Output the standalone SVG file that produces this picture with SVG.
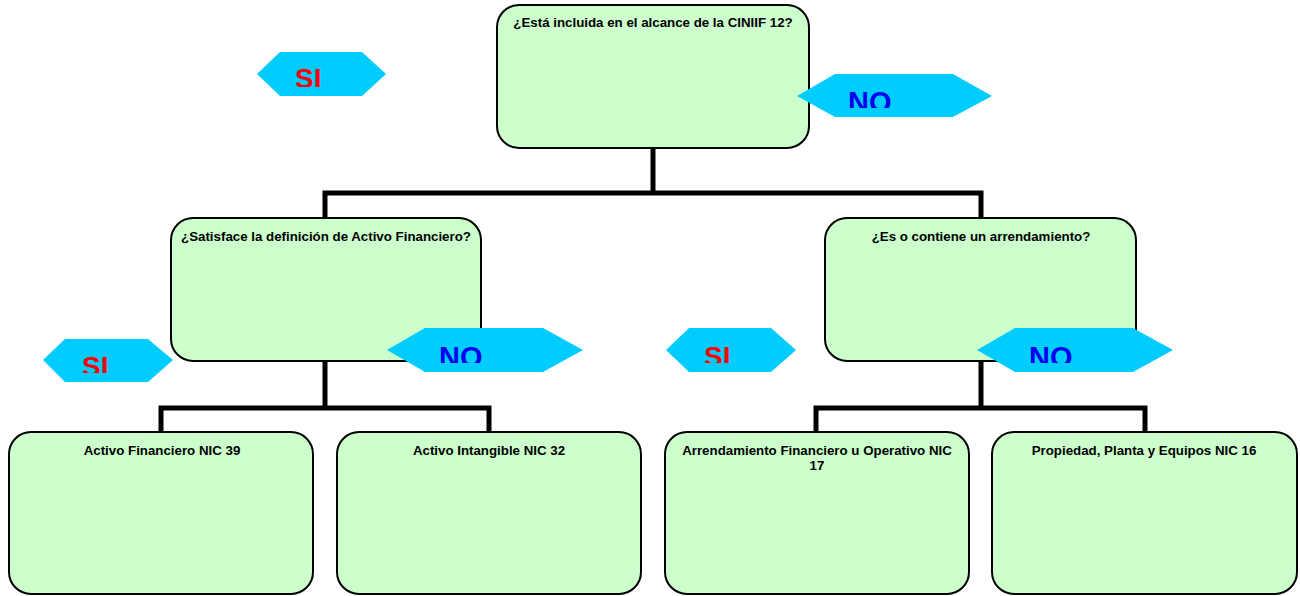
<svg xmlns="http://www.w3.org/2000/svg" width="1300" height="596" viewBox="0 0 1300 596">
<style>
.box{fill:#ccffcc;stroke:#000;stroke-width:2}
.t{font-family:"Liberation Sans",Arial,sans-serif;font-weight:bold;font-size:13.3px;fill:#000;text-anchor:middle}
.hex{fill:#00ccff}
.si{font-family:"Liberation Sans",Arial,sans-serif;font-weight:bold;font-size:28px;fill:#ff0000}
.no{font-family:"Liberation Sans",Arial,sans-serif;font-weight:bold;font-size:29px;fill:#0000ee}
.c{fill:none;stroke:#000;stroke-width:5}
</style>
<defs>
<clipPath id="c1"><rect x="250" y="40" width="150" height="47"/></clipPath>
<clipPath id="c2"><rect x="790" y="60" width="210" height="48"/></clipPath>
<clipPath id="c3"><rect x="30" y="330" width="160" height="43"/></clipPath>
<clipPath id="c4"><rect x="380" y="320" width="210" height="43"/></clipPath>
<clipPath id="c5"><rect x="660" y="320" width="150" height="43"/></clipPath>
<clipPath id="c6"><rect x="970" y="320" width="210" height="43"/></clipPath>
</defs>
<rect width="1300" height="596" fill="#fff"/>
<g id="connectors">
<path class="c" d="M653,148 V193 M325,218 V193 H981 V218"/>
<path class="c" d="M325,361 V408 M161,432 V408 H489 V432"/>
<path class="c" d="M981,361 V408 M816,432 V408 H1145 V432"/>
</g>
<g id="n1"><rect class="box" x="497" y="5" width="312" height="143" rx="22"/><text class="t" x="653" y="27">¿Está incluida en el alcance de la CINIIF 12?</text></g>
<g id="n2"><rect class="box" x="171" y="218" width="310" height="143" rx="22"/><text class="t" x="326" y="241">¿Satisface la definición de Activo Financiero?</text></g>
<g id="n3"><rect class="box" x="825" y="218" width="311" height="143" rx="22"/><text class="t" x="981" y="241">¿Es o contiene un arrendamiento?</text></g>
<g id="n4"><rect class="box" x="9" y="432" width="304" height="162" rx="22"/><text class="t" x="162" y="455">Activo Financiero NIC 39</text></g>
<g id="n5"><rect class="box" x="337" y="432" width="304" height="162" rx="22"/><text class="t" x="489" y="455">Activo Intangible NIC 32</text></g>
<g id="n6"><rect class="box" x="665" y="432" width="304" height="162" rx="22"/><text class="t" x="817" y="455">Arrendamiento Financiero u Operativo NIC</text><text class="t" x="817" y="470">17</text></g>
<g id="n7"><rect class="box" x="992" y="432" width="305" height="162" rx="22"/><text class="t" x="1144" y="455">Propiedad, Planta y Equipos NIC 16</text></g>
<g id="si1"><polygon class="hex" points="257,74 280,52 362,52 386,74 362,96 280,96"/><text class="si" x="295" y="88" clip-path="url(#c1)">SI</text></g>
<g id="no1"><polygon class="hex" points="797,96 835,74 953,74 992,96 953,117 835,117"/><text class="no" x="848" y="112" clip-path="url(#c2)">NO</text></g>
<g id="si2"><polygon class="hex" points="43,360 65,339 148,339 173,360 148,382 65,382"/><text class="si" x="82" y="376" clip-path="url(#c3)">SI</text></g>
<g id="no2"><polygon class="hex" points="387,350 425,328 543,328 583,350 543,372 425,372"/><text class="no" x="439" y="367" clip-path="url(#c4)">NO</text></g>
<g id="si3"><polygon class="hex" points="666,350 689,328 771,328 796,350 771,372 689,372"/><text class="si" x="704" y="366" clip-path="url(#c5)">SI</text></g>
<g id="no3"><polygon class="hex" points="977,350 1015,328 1133,328 1173,350 1133,372 1015,372"/><text class="no" x="1029" y="367" clip-path="url(#c6)">NO</text></g>
</svg>
